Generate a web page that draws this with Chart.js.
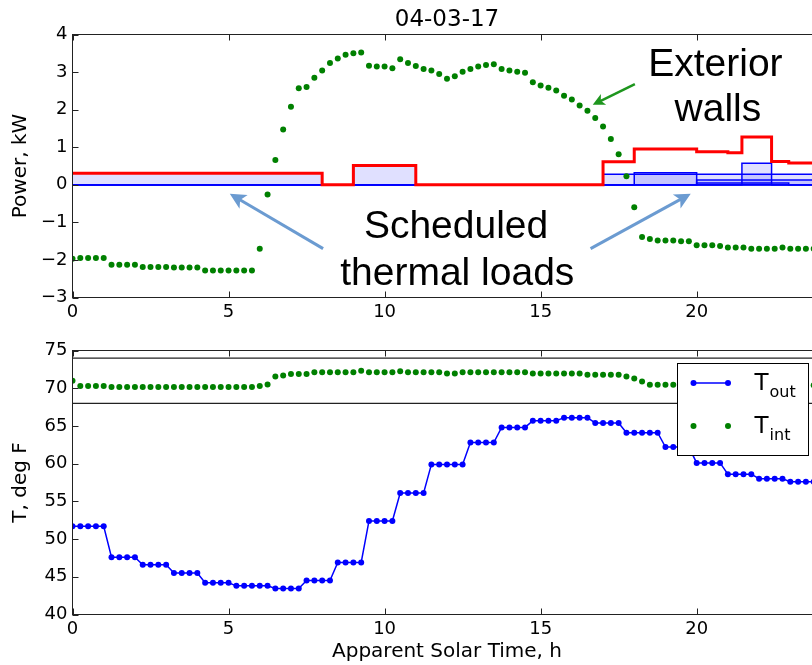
<!DOCTYPE html>
<html>
<head>
<meta charset="utf-8">
<title>04-03-17</title>
<script src="https://cdn.jsdelivr.net/npm/chart.js@4.4.1/dist/chart.umd.min.js"></script>
<style>
  html, body { margin: 0; padding: 0; background: #fff; overflow: hidden; width: 812px; height: 665px; }
  canvas { position: absolute; left: 0; }
  #power-chart { top: 0; }
  #temp-chart { top: 330px; }
</style>
</head>
<body>
<canvas id="power-chart" width="830" height="330"></canvas>
<canvas id="temp-chart" width="830" height="335"></canvas>
<script>
// Data (15 minute steps)

const hours = [
  0, 0.25, 0.5, 0.75, 1, 1.25, 1.5, 1.75, 2, 2.25, 2.5, 2.75,
  3, 3.25, 3.5, 3.75, 4, 4.25, 4.5, 4.75, 5, 5.25, 5.5, 5.75,
  6, 6.25, 6.5, 6.75, 7, 7.25, 7.5, 7.75, 8, 8.25, 8.5, 8.75,
  9, 9.25, 9.5, 9.75, 10, 10.25, 10.5, 10.75, 11, 11.25, 11.5, 11.75,
  12, 12.25, 12.5, 12.75, 13, 13.25, 13.5, 13.75, 14, 14.25, 14.5, 14.75,
  15, 15.25, 15.5, 15.75, 16, 16.25, 16.5, 16.75, 17, 17.25, 17.5, 17.75,
  18, 18.25, 18.5, 18.75, 19, 19.25, 19.5, 19.75, 20, 20.25, 20.5, 20.75,
  21, 21.25, 21.5, 21.75, 22, 22.25, 22.5, 22.75, 23, 23.25, 23.5, 23.75,
];

// exterior walls, kW
const wallPower = [
  -1.97, -1.95, -1.95, -1.95, -1.95, -2.13, -2.13, -2.13,
  -2.13, -2.19, -2.19, -2.19, -2.19, -2.2, -2.2, -2.2,
  -2.2, -2.28, -2.28, -2.28, -2.28, -2.28, -2.28, -2.28,
  -1.7, -0.26, 0.66, 1.47, 2.08, 2.57, 2.6, 2.85,
  3.04, 3.24, 3.36, 3.46, 3.5, 3.52, 3.17, 3.15,
  3.15, 3.1, 3.34, 3.24, 3.16, 3.08, 3.04, 2.95,
  2.82, 2.89, 3.01, 3.08, 3.15, 3.19, 3.21, 3.08,
  3.04, 3.01, 2.98, 2.73, 2.64, 2.58, 2.51, 2.37,
  2.27, 2.11, 1.97, 1.78, 1.55, 1.22, 0.81, 0.23,
  -0.6, -1.39, -1.44, -1.48, -1.48, -1.48, -1.5, -1.5,
  -1.61, -1.61, -1.61, -1.63, -1.67, -1.67, -1.67, -1.7,
  -1.7, -1.7, -1.7, -1.67, -1.7, -1.7, -1.7, -1.7,
];

// internal gains (red step), kW
const gainHours = [0, 8, 9, 11, 17, 18, 20, 21, 21.45, 22.4, 22.95, 24];
const gainPower = [0.31, 0, 0.51, 0, 0.61, 0.95, 0.88, 0.85, 1.27, 0.62, 0.58, 0.58];

// scheduled thermal loads (blue steps), kW
const loadHours = [
  [0, 8, 24],
  [0, 9, 11, 24],
  [0, 17, 24],
  [0, 18, 20, 24],
  [0, 20, 24],
  [0, 20, 22.95, 24],
  [0, 21.45, 22.4, 24],
];
const loadPower = [
  [0.31, 0, 0],
  [0, 0.5, 0, 0],
  [0, 0.28, 0.28],
  [0, 0.32, 0, 0],
  [0, 0.13, 0.13],
  [0, 0.05, 0, 0],
  [0, 0.57, 0, 0],
];

// temperatures, deg F
const outsideTemp = [
  51.7, 51.7, 51.7, 51.7, 51.7, 47.6, 47.6, 47.6,
  47.6, 46.6, 46.6, 46.6, 46.6, 45.5, 45.5, 45.5,
  45.5, 44.2, 44.2, 44.2, 44.2, 43.8, 43.8, 43.8,
  43.8, 43.8, 43.45, 43.45, 43.45, 43.45, 44.5, 44.5,
  44.5, 44.5, 46.9, 46.9, 46.9, 46.9, 52.4, 52.4,
  52.4, 52.4, 56.1, 56.1, 56.1, 56.1, 59.9, 59.9,
  59.9, 59.9, 59.9, 62.8, 62.8, 62.8, 62.8, 64.8,
  64.8, 64.8, 64.8, 65.7, 65.7, 65.7, 65.7, 66.1,
  66.1, 66.1, 66.1, 65.4, 65.4, 65.4, 65.4, 64.1,
  64.1, 64.1, 64.1, 64.1, 62.2, 62.2, 62.2, 62.2,
  60.1, 60.1, 60.1, 60.1, 58.6, 58.6, 58.6, 58.6,
  58.0, 58.0, 58.0, 58.0, 57.6, 57.6, 57.6, 57.6,
];
const insideTemp = [
  71.0, 70.3, 70.3, 70.3, 70.3, 70.15, 70.15, 70.15,
  70.15, 70.15, 70.15, 70.15, 70.15, 70.15, 70.15, 70.15,
  70.15, 70.15, 70.15, 70.15, 70.15, 70.15, 70.15, 70.15,
  70.3, 70.5, 71.55, 71.7, 71.9, 71.9, 71.9, 72.1,
  72.1, 72.1, 72.1, 72.1, 72.1, 72.3, 72.1, 72.1,
  72.1, 72.1, 72.25, 72.1, 72.1, 72.1, 72.1, 72.1,
  71.95, 71.95, 72.1, 72.1, 72.1, 72.1, 72.1, 72.1,
  72.1, 72.1, 72.1, 71.95, 71.95, 71.95, 71.95, 71.95,
  71.95, 71.95, 71.8, 71.8, 71.8, 71.8, 71.8, 71.55,
  71.3, 70.9, 70.45, 70.45, 70.45, 70.45, 70.4, 70.4,
  70.4, 70.4, 70.4, 70.4, 70.4, 70.4, 70.4, 70.4,
  70.4, 70.4, 70.4, 70.4, 70.4, 70.4, 70.4, 70.4,
];
const comfortLimits = [68, 74];

const hourTicks = [0, 5, 10, 15, 20];
const powerTicks = [-3, -2, -1, 0, 1, 2, 3, 4];
const tempTicks = [40, 45, 50, 55, 60, 65, 70, 75];

//Helpers

Chart.defaults.font.family = "'DejaVu Sans', sans-serif";
Chart.defaults.color = "#000";

const GREEN = "#008000";
const BLUE = "#0000ff";

function points(xs, ys) {
  return xs.map((x, i) => ({ x: x, y: ys[i] }));
}

function fmt(v) {
  return String(v).replace("-", "\u2212");
}

function hourAxis(height, title) {
  return {
    type: "linear",
    min: 0,
    max: 24,
    grid: { display: false, drawTicks: false },
    border: { display: false },
    afterBuildTicks: (s) => { s.ticks = hourTicks.map((v) => ({ value: v })); },
    afterFit: (s) => { s.height = height; },
    ticks: { font: { size: 18 }, padding: 4, maxRotation: 0, callback: fmt },
    title: title
      ? { display: true, text: title, font: { size: 20 }, padding: { top: 0, bottom: 1 } }
      : { display: false },
  };
}

function valueAxis(min, max, tickList, title) {
  return {
    type: "linear",
    min: min,
    max: max,
    grid: { display: false, drawTicks: false },
    border: { display: false },
    afterBuildTicks: (s) => { s.ticks = tickList.map((v) => ({ value: v })); },
    afterFit: (s) => { s.width = 72.5; },
    ticks: { font: { size: 18 }, padding: 5, callback: fmt },
    title: { display: true, text: title, font: { size: 20 }, padding: { top: 9, bottom: 0 } },
  };
}

// frame with inward ticks on all four sides (matplotlib look)
const framePlugin = {
  id: "frame",
  afterDatasetsDraw(chart) {
    const { ctx, chartArea: a, scales } = chart;
    ctx.save();
    ctx.strokeStyle = "#222";
    ctx.lineWidth = 1;
    ctx.beginPath();
    scales.x.ticks.forEach((t) => {
      const px = Math.round(scales.x.getPixelForValue(t.value)) + 0.5;
      ctx.moveTo(px, a.bottom); ctx.lineTo(px, a.bottom - 6);
      ctx.moveTo(px, a.top); ctx.lineTo(px, a.top + 6);
    });
    scales.y.ticks.forEach((t) => {
      const py = Math.round(scales.y.getPixelForValue(t.value)) + 0.5;
      ctx.moveTo(a.left, py); ctx.lineTo(a.left + 6, py);
      ctx.moveTo(a.right, py); ctx.lineTo(a.right - 6, py);
    });
    ctx.stroke();
    ctx.strokeRect(a.left, a.top, a.right - a.left, a.bottom - a.top);
    ctx.restore();
  },
};

function arrow(ctx, x0, y0, x1, y1, color, width, head) {
  const c = Math.cos(Math.atan2(y1 - y0, x1 - x0));
  const s = Math.sin(Math.atan2(y1 - y0, x1 - x0));
  ctx.save();
  ctx.strokeStyle = color;
  ctx.fillStyle = color;
  ctx.lineWidth = width;
  ctx.beginPath();
  ctx.moveTo(x0, y0);
  ctx.lineTo(x1 - head * 0.7 * c, y1 - head * 0.7 * s);
  ctx.stroke();
  ctx.beginPath();
  ctx.moveTo(x1, y1);
  ctx.lineTo(x1 - head * c + head * 0.5 * s, y1 - head * s - head * 0.5 * c);
  ctx.lineTo(x1 - head * 0.75 * c, y1 - head * 0.75 * s);
  ctx.lineTo(x1 - head * c - head * 0.5 * s, y1 - head * s + head * 0.5 * c);
  ctx.closePath();
  ctx.fill();
  ctx.restore();
}

// title + callouts on the power plot (placed in data units)
const notesPlugin = {
  id: "notes",
  afterDraw(chart) {
    const { ctx, chartArea: a, scales } = chart;
    const X = (v) => scales.x.getPixelForValue(v);
    const Y = (v) => scales.y.getPixelForValue(v);
    ctx.save();
    ctx.fillStyle = "#000";
    ctx.textAlign = "center";
    ctx.textBaseline = "alphabetic";
    ctx.font = "23px 'DejaVu Sans'";
    ctx.fillText("04-03-17", (a.left + a.right) / 2, 26);

    ctx.font = "39px 'Liberation Sans'";
    ctx.fillText("Exterior", X(20.6), Y(2.9));
    ctx.fillText("walls", X(20.68), Y(1.71));
    ctx.fillText("Scheduled", X(12.29), Y(-1.41));
    ctx.fillText("thermal loads", X(12.33), Y(-2.67));
    ctx.restore();

    arrow(ctx, X(18.02), Y(2.68), X(16.67), Y(2.13), "#1e961e", 2.5, 12);
    arrow(ctx, X(8.03), Y(-1.7), X(5.04), Y(-0.24), "#6b9bd1", 3, 16);
    arrow(ctx, X(16.6), Y(-1.7), X(19.81), Y(-0.24), "#6b9bd1", 3, 16);
  },
};

// boxed legend, upper right
const legendPlugin = {
  id: "boxLegend",
  afterDraw(chart) {
    const { ctx, chartArea: a } = chart;
    const w = 131, h = 92;
    const left = a.right - 13.5 - w;
    const top = a.top + 12.8;
    ctx.save();
    ctx.fillStyle = "#fff";
    ctx.fillRect(left, top, w, h);
    ctx.strokeStyle = "#000";
    ctx.lineWidth = 1;
    ctx.strokeRect(Math.round(left) + 0.5, Math.round(top) + 0.5, w, h);

    const rows = [
      { color: BLUE, line: true, sub: "out", y: top + 19.7 },
      { color: GREEN, line: false, sub: "int", y: top + 62.7 },
    ];
    rows.forEach((r) => {
      ctx.fillStyle = r.color;
      ctx.strokeStyle = r.color;
      if (r.line) {
        ctx.lineWidth = 1.5;
        ctx.beginPath();
        ctx.moveTo(left + 16.5, r.y);
        ctx.lineTo(left + 51, r.y);
        ctx.stroke();
      }
      [left + 16.5, left + 51].forEach((px) => {
        ctx.beginPath();
        ctx.arc(px, r.y, 3, 0, Math.PI * 2);
        ctx.fill();
      });
      ctx.fillStyle = "#000";
      ctx.textAlign = "left";
      ctx.textBaseline = "alphabetic";
      ctx.font = "23px 'DejaVu Sans'";
      const tx = left + 77.5;
      ctx.fillText("T", tx, r.y + 7);
      const tw = ctx.measureText("T").width;
      ctx.font = "16px 'DejaVu Sans'";
      ctx.fillText(r.sub, tx + tw + 1, r.y + 13.5);
    });
    ctx.restore();
  },
};

//Power plot

const powerDatasets = [
  {
    data: points(hours, wallPower),
    showLine: false,
    pointRadius: 3,
    pointBorderWidth: 0,
    pointBackgroundColor: GREEN,
    order: 1,
  },
];
loadHours.forEach((xs, k) => {
  powerDatasets.push({
    data: points(xs, loadPower[k]),
    stepped: "before",
    fill: "origin",
    borderColor: BLUE,
    borderWidth: 1.5,
    backgroundColor: "rgba(0, 0, 255, 0.12)",
    pointRadius: 0,
    order: 3,
  });
});
powerDatasets.push({
  data: points(gainHours, gainPower),
  stepped: "before",
  fill: false,
  borderColor: "#ff0000",
  borderWidth: 3,
  pointRadius: 0,
  order: 2,
});

new Chart(document.getElementById("power-chart"), {
  type: "line",
  data: { datasets: powerDatasets },
  options: {
    responsive: false,
    animation: false,
    events: [],
    layout: { padding: { top: 34.5, left: 0, right: 8.5, bottom: 0 } },
    plugins: { legend: { display: false }, tooltip: { enabled: false } },
    scales: {
      x: hourAxis(32.5, null),
      y: valueAxis(-3, 4, powerTicks, "Power, kW"),
    },
  },
  plugins: [framePlugin, notesPlugin],
});

//Temperature plot

const tempDatasets = [
  {
    label: "Tout",
    data: points(hours, outsideTemp),
    borderColor: BLUE,
    borderWidth: 1.5,
    pointRadius: 3,
    pointBorderWidth: 0,
    pointBackgroundColor: BLUE,
  },
  {
    label: "Tint",
    data: points(hours, insideTemp),
    showLine: false,
    pointRadius: 3,
    pointBorderWidth: 0,
    pointBackgroundColor: GREEN,
  },
];
comfortLimits.forEach((v) => {
  tempDatasets.push({
    data: points([0, 24], [v, v]),
    borderColor: "#222",
    borderWidth: 1.3,
    pointRadius: 0,
  });
});

new Chart(document.getElementById("temp-chart"), {
  type: "line",
  data: { datasets: tempDatasets },
  options: {
    responsive: false,
    animation: false,
    events: [],
    layout: { padding: { top: 20.5, left: 0, right: 8.5, bottom: 0 } },
    plugins: { legend: { display: false }, tooltip: { enabled: false } },
    scales: {
      x: hourAxis(50.5, "Apparent Solar Time, h"),
      y: valueAxis(40, 75, tempTicks, "T, deg F"),
    },
  },
  plugins: [framePlugin, legendPlugin],
});
</script>
</body>
</html>
